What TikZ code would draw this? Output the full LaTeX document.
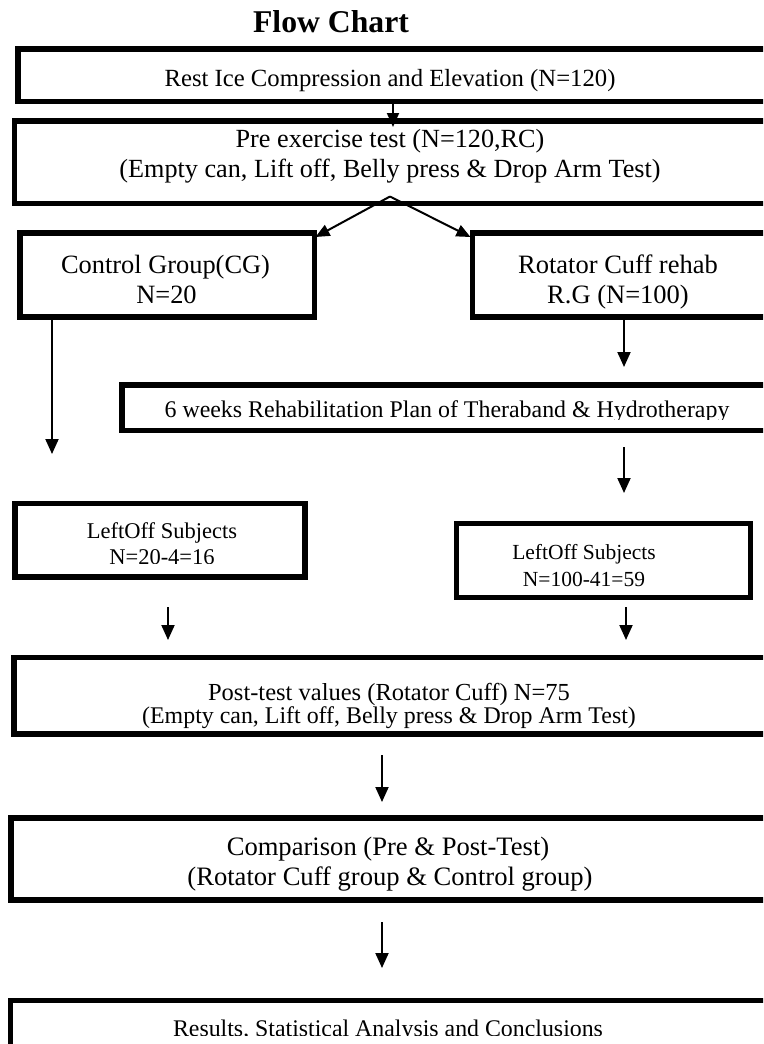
\documentclass[tikz,border=0pt]{standalone}
\usepackage{fontspec}
\setmainfont{Liberation Serif}
\usetikzlibrary{arrows.meta,calc}
\newcommand\fsz[1]{\fontsize{#1pt}{#1pt}\selectfont}
\begin{document}
\begin{tikzpicture}[x=1pt,y=-1pt,
  boxst/.style={draw=black, line width=5.5pt, inner sep=0pt, outer sep=0pt, anchor=north west},
  txt/.style={inner sep=0pt, outer sep=0pt, anchor=base, font=\fsz{#1}},
  arr/.style={line width=2pt, -{Triangle[width=13pt,length=15pt]}},
  arrsm/.style={line width=2pt, -{Triangle[width=12pt,length=14pt]}},
]
\useasboundingbox (0,0) rectangle (763,1044);
\fill[white] (0,0) rectangle (763,1044);
\clip (0,0) rectangle (763,1044);

% title
\node[inner sep=0pt, anchor=base, font=\fsz{31.7}\bfseries] (tt) at (331,32) {Flow Chart};

% boxes
\node[boxst, minimum width=762pt, minimum height=52.5pt] (b1) at (18,49) {};
\node[boxst, minimum width=766pt, minimum height=82.5pt] (b2) at (14.5,121) {};
\node[boxst, minimum width=294.5pt, minimum height=84pt] (b3) at (20,233) {};
\node[boxst, minimum width=310pt, minimum height=84pt] (b4) at (472.5,233) {};
\node[boxst, minimum width=660pt, minimum height=45.5pt] (b5) at (122,385) {};
\node[boxst, minimum width=290pt, minimum height=73.5pt] (b6) at (15,503.5) {};
\node[boxst, minimum width=294pt, minimum height=74pt] (b7) at (456.5,523.5) {};
\node[boxst, minimum width=766pt, minimum height=76.5pt] (b8) at (14,657.5) {};
\node[boxst, minimum width=770pt, minimum height=82pt] (b9) at (11,818) {};
\node[boxst, minimum width=770pt, minimum height=100pt] (b10) at (10.5,1000.5) {};

% texts
\node[txt=24.7] (t1) at (390,86) {Rest Ice Compression and Elevation (N=120)};
\node[txt=26.2] (t2a) at (390,147) {Pre exercise test (N=120,RC)};
\node[txt=26.2] (t2b) at (390,177) {(Empty can, Lift off, Belly press \& Drop Arm Test)};
\node[txt=26.4] (t3a) at (165.5,273) {Control Group(CG)};
\node[txt=26.4] (t3b) at (166.5,303) {N=20};
\node[txt=26.5] (t4a) at (618,273) {Rotator Cuff rehab};
\node[txt=26.5] (t4b) at (618,303) {R.G (N=100)};
\begin{scope}
\clip (0,0) rectangle (763,419.5);
\node[txt=23.9] (t5) at (447,417) {6 weeks Rehabilitation Plan of Theraband \& Hydrotherapy};
\end{scope}
\node[txt=22.5] (t6a) at (162,538) {LeftOff Subjects};
\begin{scope}
\clip (0,0) rectangle (763,563.5);
\node[txt=22.5] (t6b) at (162,564) {N=20-4=16};
\end{scope}
\node[txt=21.5] (t7a) at (584,559) {LeftOff Subjects};
\node[txt=21.5] (t7b) at (584,586) {N=100-41=59};
\node[txt=24.5] (t8a) at (389,700) {Post-test values (Rotator Cuff) N=75};
\node[txt=23.9] (t8b) at (389,723) {(Empty can, Lift off, Belly press \& Drop Arm Test)};
\node[txt=26.6] (t9a) at (388,855) {Comparison (Pre \& Post-Test)};
\node[txt=26.6] (t9b) at (390,885) {(Rotator Cuff group \& Control group)};
\begin{scope}
\clip (0,0) rectangle (763,1035);
\node[txt=23.85] (t10) at (388,1036) {Results, Statistical Analysis and Conclusions};
\end{scope}

% coordinates for connectors
\coordinate (xa) at (393,0);
\coordinate (xs) at (390,0);
\coordinate (cl) at (52,454);
\coordinate (cr1) at (624,367);
\coordinate (cr2s) at (624,447);
\coordinate (cr2e) at (624,493);
\coordinate (cl3s) at (168,607);
\coordinate (cl3e) at (168,640);
\coordinate (cr3s) at (626,607);
\coordinate (cr3e) at (626,640);
\coordinate (cc1s) at (382,755);
\coordinate (cc1e) at (382,802);
\coordinate (cc2s) at (382,922);
\coordinate (cc2e) at (382,968);

% connectors
\draw[arrsm] (b1.south -| xa) -- ($(b2.north -| xa)+(0,6)$);
\draw[arrsm] ($(b2.south -| xs)+(0,-7)$) -- ($(b3.north east)+(1,4)$);
\draw[arrsm] ($(b2.south -| xs)+(0,-7)$) -- ($(b4.north west)+(-2,4)$);
\draw[arr] (b3.south -| cl) -- (cl);
\draw[arr] (b4.south -| cr1) -- (cr1);
\draw[arr] (cr2s) -- (cr2e);
\draw[arr] (cl3s) -- (cl3e);
\draw[arr] (cr3s) -- (cr3e);
\draw[arr] (cc1s) -- (cc1e);
\draw[arr] (cc2s) -- (cc2e);
\end{tikzpicture}
\end{document}
